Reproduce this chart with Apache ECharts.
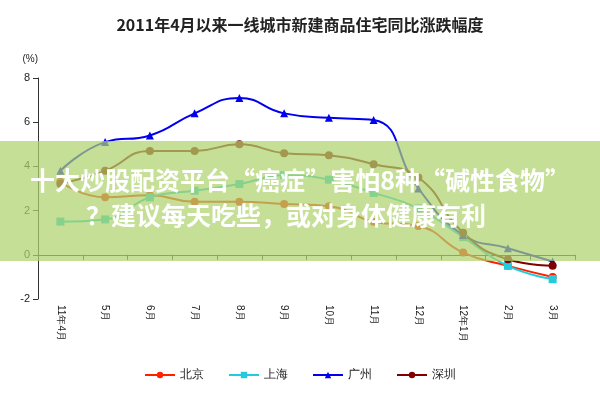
<!DOCTYPE html><html><head><meta charset="utf-8"><script src="https://cdn.jsdelivr.net/npm/echarts@6/dist/echarts.min.js"></script></head><body style="margin:0"><div id="c" style="width:600px;height:400px"></div><script>
const categories=["11年4月","5月","6月","7月","8月","9月","10月","11月","12月","12年1月","2月","3月"];
const beijing=[3.3,2.6,2.7,2.4,2.4,2.3,2.2,1.5,1.3,0.1,-0.5,-1.0];
const shanghai=[1.5,1.6,2.6,2.9,3.2,3.6,3.4,2.8,2.1,0.8,-0.5,-1.1];
const guangzhou=[3.8,5.1,5.4,6.4,7.1,6.4,6.2,6.1,3.0,0.9,0.3,-0.3];
const shenzhen=[3.2,3.8,4.7,4.7,5.0,4.6,4.5,4.1,3.5,1.0,-0.2,-0.5];
const ch=echarts.init(document.getElementById('c'));
function s(name,data,color,symbol){return {name,type:'line',data,smooth:true,symbol,symbolSize:8,lineStyle:{color,width:2},itemStyle:{color}};}
ch.setOption({
title:{text:'2011年4月以来一线城市新建商品住宅同比涨跌幅度',left:'center',top:12,textStyle:{fontSize:16,fontWeight:'bold',color:'#222',fontFamily:'Noto Sans CJK SC'}},
legend:{bottom:14,itemWidth:30,itemHeight:8,itemGap:24,textStyle:{fontSize:12,color:'#222'},data:['北京','上海','广州','深圳']},
grid:{left:38,right:25,top:78,bottom:101},
xAxis:{type:'category',data:categories,boundaryGap:true,axisLine:{onZero:true,lineStyle:{color:'#333'}},axisTick:{show:true,alignWithLabel:false,lineStyle:{color:'#333'}},axisLabel:{rotate:-90,interval:0,fontSize:10,color:'#222',margin:6}},
yAxis:{type:'value',min:-2,max:8,interval:2,splitLine:{show:false},axisLine:{show:true,lineStyle:{color:'#333'}},axisTick:{show:true},axisLabel:{color:'#222',fontSize:11},name:'(%)',nameLocation:'end',nameGap:14,nameTextStyle:{color:'#222',fontSize:10,align:'right'}},
series:[s('北京',beijing,'#ff2000','circle'),s('上海',shanghai,'#22ccdd','rect'),s('广州',guangzhou,'#0000ee','triangle'),s('深圳',shenzhen,'#800000','circle')],
graphic:[{type:'rect',shape:{x:0,y:141,width:600,height:120},style:{fill:'rgba(175,210,110,0.72)'},z:100},
{type:'text',left:'center',top:168,style:{text:'十大炒股配资平台“癌症”害怕8种“碱性食物”',fill:'#fff',font:'bold 25px "Noto Sans CJK SC"'},z:101},
{type:'text',left:86,top:203,style:{text:'？建议每天吃些，或对身体健康有利',fill:'#fff',font:'bold 25px "Noto Sans CJK SC"'},z:101}]
});
</script></body></html>
